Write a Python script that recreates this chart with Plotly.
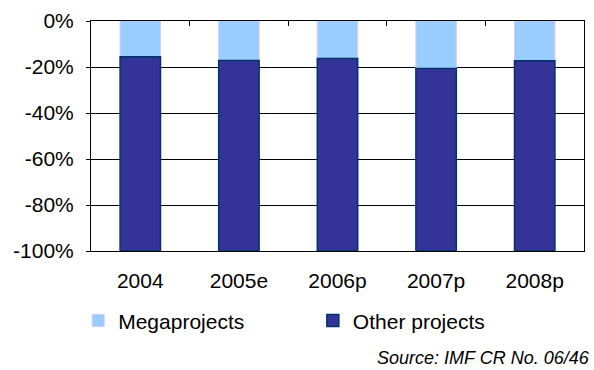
import plotly.graph_objects as go

years = ["2004", "2005e", "2006p", "2007p", "2008p"]
megaprojects = [-15.5, -17.2, -16.3, -20.6, -17.3]
other_projects = [-84.5, -82.8, -83.7, -79.4, -82.7]
y_tick_values = [0, -20, -40, -60, -80, -100]
y_tick_labels = ["0%", "-20%", "-40%", "-60%", "-80%", "-100%"]

FONT = "Liberation Sans, Arial, sans-serif"

fig = go.Figure()
fig.add_trace(go.Bar(
    x=years, y=megaprojects, name="Megaprojects",
    marker=dict(color="#99CCFF", line=dict(color="#CCCCFF", width=1)),
    legend="legend",
))
fig.add_trace(go.Bar(
    x=years, y=other_projects, name="Other projects",
    marker=dict(color="#333399", line=dict(color="#003366", width=1.5)),
    legend="legend2",
))
# invisible helper trace so the top category axis can draw boundary ticks
fig.add_trace(go.Scatter(
    x=years, y=[None] * len(years), xaxis="x2", yaxis="y",
    showlegend=False, hoverinfo="skip", mode="markers",
))

fig.update_layout(
    width=594, height=370,
    margin=dict(l=91, r=9, t=18, b=119),
    paper_bgcolor="white", plot_bgcolor="white",
    barmode="relative", bargap=0.59,
    font=dict(family=FONT, size=21, color="black"),
    xaxis=dict(
        type="category", categoryorder="array", categoryarray=years,
        showline=True, linecolor="black", linewidth=1, mirror=False,
        ticks="", showgrid=False, zeroline=False,
        tickfont=dict(size=21), ticklabelstandoff=11,
    ),
    xaxis2=dict(
        type="category", categoryorder="array", categoryarray=years,
        overlaying="x", side="top", matches="x",
        showline=True, linecolor="black", linewidth=1,
        ticks="inside", ticklen=5, tickcolor="black", tickson="boundaries",
        showticklabels=False, showgrid=False, zeroline=False,
    ),
    yaxis=dict(
        range=[-100, 0], tickvals=y_tick_values, ticktext=y_tick_labels,
        showline=True, linecolor="black", linewidth=1, mirror=True,
        ticks="outside", ticklen=4, tickcolor="black",
        showgrid=True, gridcolor="black", gridwidth=1, zeroline=False,
        tickfont=dict(size=21), ticklabelstandoff=8,
    ),
    legend=dict(
        orientation="h", x=-0.026, y=-0.215, xanchor="left", yanchor="top",
        bgcolor="rgba(0,0,0,0)", font=dict(size=21), borderwidth=0,
    ),
    legend2=dict(
        orientation="h", x=0.45, y=-0.215, xanchor="left", yanchor="top",
        bgcolor="rgba(0,0,0,0)", font=dict(size=21), borderwidth=0,
    ),
    annotations=[dict(
        text="<i>Source: IMF CR No. 06/46</i>",
        xref="paper", yref="paper", x=1.016, y=-0.465,
        xanchor="right", yanchor="middle", showarrow=False,
        font=dict(family=FONT, size=18, color="black"),
    )],
    showlegend=True,
)

fig.write_html("out.html")
